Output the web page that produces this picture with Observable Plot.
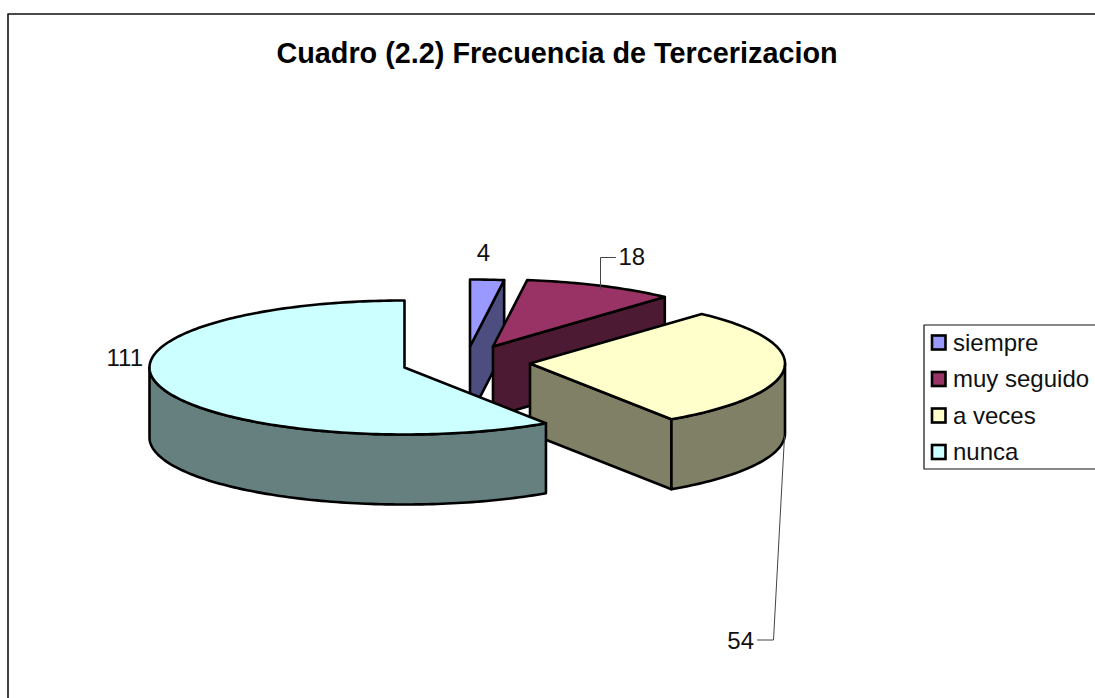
<!DOCTYPE html>
<html>
<head>
<meta charset="utf-8">
<script src="https://cdn.jsdelivr.net/npm/d3@7"></script>
<script src="https://cdn.jsdelivr.net/npm/@observablehq/plot@0.6"></script>
<style>html,body{margin:0;padding:0;background:#fff}svg{display:block}</style>
</head>
<body>
<div id="chart"></div>
<script>
const categories = ["siempre", "muy seguido", "a veces", "nunca"];
const values = [4, 18, 54, 111];
const topColors = ["#9999FF", "#993366", "#FFFFCC", "#CCFFFF"];
const sideColors = ["#4D4D80", "#4D1A33", "#808066", "#668080"];
const titleText = "Cuadro (2.2) Frecuencia de Tercerizacion";

// pie layout
const W = 1095, H = 698;
const rx = 255, ry = 67, depth = 70;
const centers = [[469.5, 346], [492.5, 346], [529.5, 363], [404, 367]];
const font = "Liberation Sans, Arial, sans-serif";

const total = d3.sum(values);
const cum = d3.cumsum(values);
const slices = values.map((v, i) => ({
  i,
  a0: (cum[i] - v) / total * 2 * Math.PI,
  a1: cum[i] / total * 2 * Math.PI,
  cx: centers[i][0],
  cy: centers[i][1]
}));
const pt = (s, a, dz = 0) => ({x: s.cx + rx * Math.sin(a), y: s.cy - ry * Math.cos(a) + dz});
const arc = (s, a0, a1, dz = 0) => {
  const n = Math.max(2, Math.ceil(Math.abs(a1 - a0) / 0.02));
  return d3.range(n + 1).map(k => pt(s, a0 + (a1 - a0) * k / n, dz));
};
const closed = pts => [...pts, pts[0]];
const apex = (s, dz = 0) => ({x: s.cx, y: s.cy + dz});

const polygons = [];
for (const s of slices) {
  const side = sideColors[s.i], top = topColors[s.i];
  if (s.a1 < Math.PI) {
    polygons.push({fill: side, pts: closed([apex(s), pt(s, s.a1), pt(s, s.a1, depth), apex(s, depth)])});
  }
  const f0 = Math.max(s.a0, Math.PI / 2), f1 = Math.min(s.a1, 3 * Math.PI / 2);
  if (f1 > f0) {
    polygons.push({fill: side, pts: closed([...arc(s, f0, f1), ...arc(s, f1, f0, depth)])});
  }
  polygons.push({fill: top, pts: closed([apex(s), ...arc(s, s.a0, s.a1)])});
}

const pointsOf = arr => arr.map(([x, y]) => ({x, y}));
const frame = pointsOf([[7.5, H], [7.5, 13.5], [W, 13.5]]);
const legendFrame = pointsOf([[W, 324.5], [923.5, 324.5], [923.5, 468.5], [W, 468.5]]);
const leaders = [
  pointsOf([[600, 288], [600, 257], [615, 257]]),
  pointsOf([[784, 436], [773, 639.5], [757, 639.5]])
];
const labelsMiddle = [{t: values[0], x: 483, y: 253}];
const labelsStart = [{t: values[1], x: 618, y: 257}];
const labelsEnd = [{t: values[2], x: 753.5, y: 641}, {t: values[3], x: 142.5, y: 358}];
const legendY = [342.5, 379, 415.5, 452];
const legend = categories.map((c, i) => ({c, color: topColors[i], y: legendY[i]}));
const labelStyle = {x: "x", y: "y", text: d => String(d.t), fontSize: 24, fill: "#111"};

const chart = Plot.plot({
  width: W, height: H,
  margin: 0,
  style: {background: "#fff", fontFamily: font},
  x: {domain: [0, W], range: [0, W], axis: null},
  y: {domain: [0, H], range: [0, H], axis: null},
  marks: [
    Plot.line(frame, {x: "x", y: "y", stroke: "#111", strokeWidth: 1.6}),
    Plot.line(legendFrame, {x: "x", y: "y", stroke: "#111", strokeWidth: 1.2}),
    ...polygons.map(p => Plot.line(p.pts, {x: "x", y: "y", fill: p.fill, stroke: "#000", strokeWidth: 2.6, strokeLinejoin: "round"})),
    ...leaders.map(l => Plot.line(l, {x: "x", y: "y", stroke: "#444", strokeWidth: 1})),
    Plot.text([titleText], {x: () => 556.5, y: () => 53, text: d => d, fontSize: 28.8, fontWeight: "bold", fill: "#000"}),
    Plot.text(labelsMiddle, {...labelStyle, textAnchor: "middle"}),
    Plot.text(labelsStart, {...labelStyle, textAnchor: "start"}),
    Plot.text(labelsEnd, {...labelStyle, textAnchor: "end"}),
    Plot.rect(legend, {x1: () => 932, x2: () => 945.5, y1: d => d.y - 7, y2: d => d.y + 7, fill: "color", stroke: "#000", strokeWidth: 2.6}),
    Plot.text(legend, {x: () => 952.5, y: "y", text: "c", textAnchor: "start", fontSize: 24, fill: "#111"})
  ]
});
document.getElementById("chart").append(chart);
</script>
</body>
</html>
